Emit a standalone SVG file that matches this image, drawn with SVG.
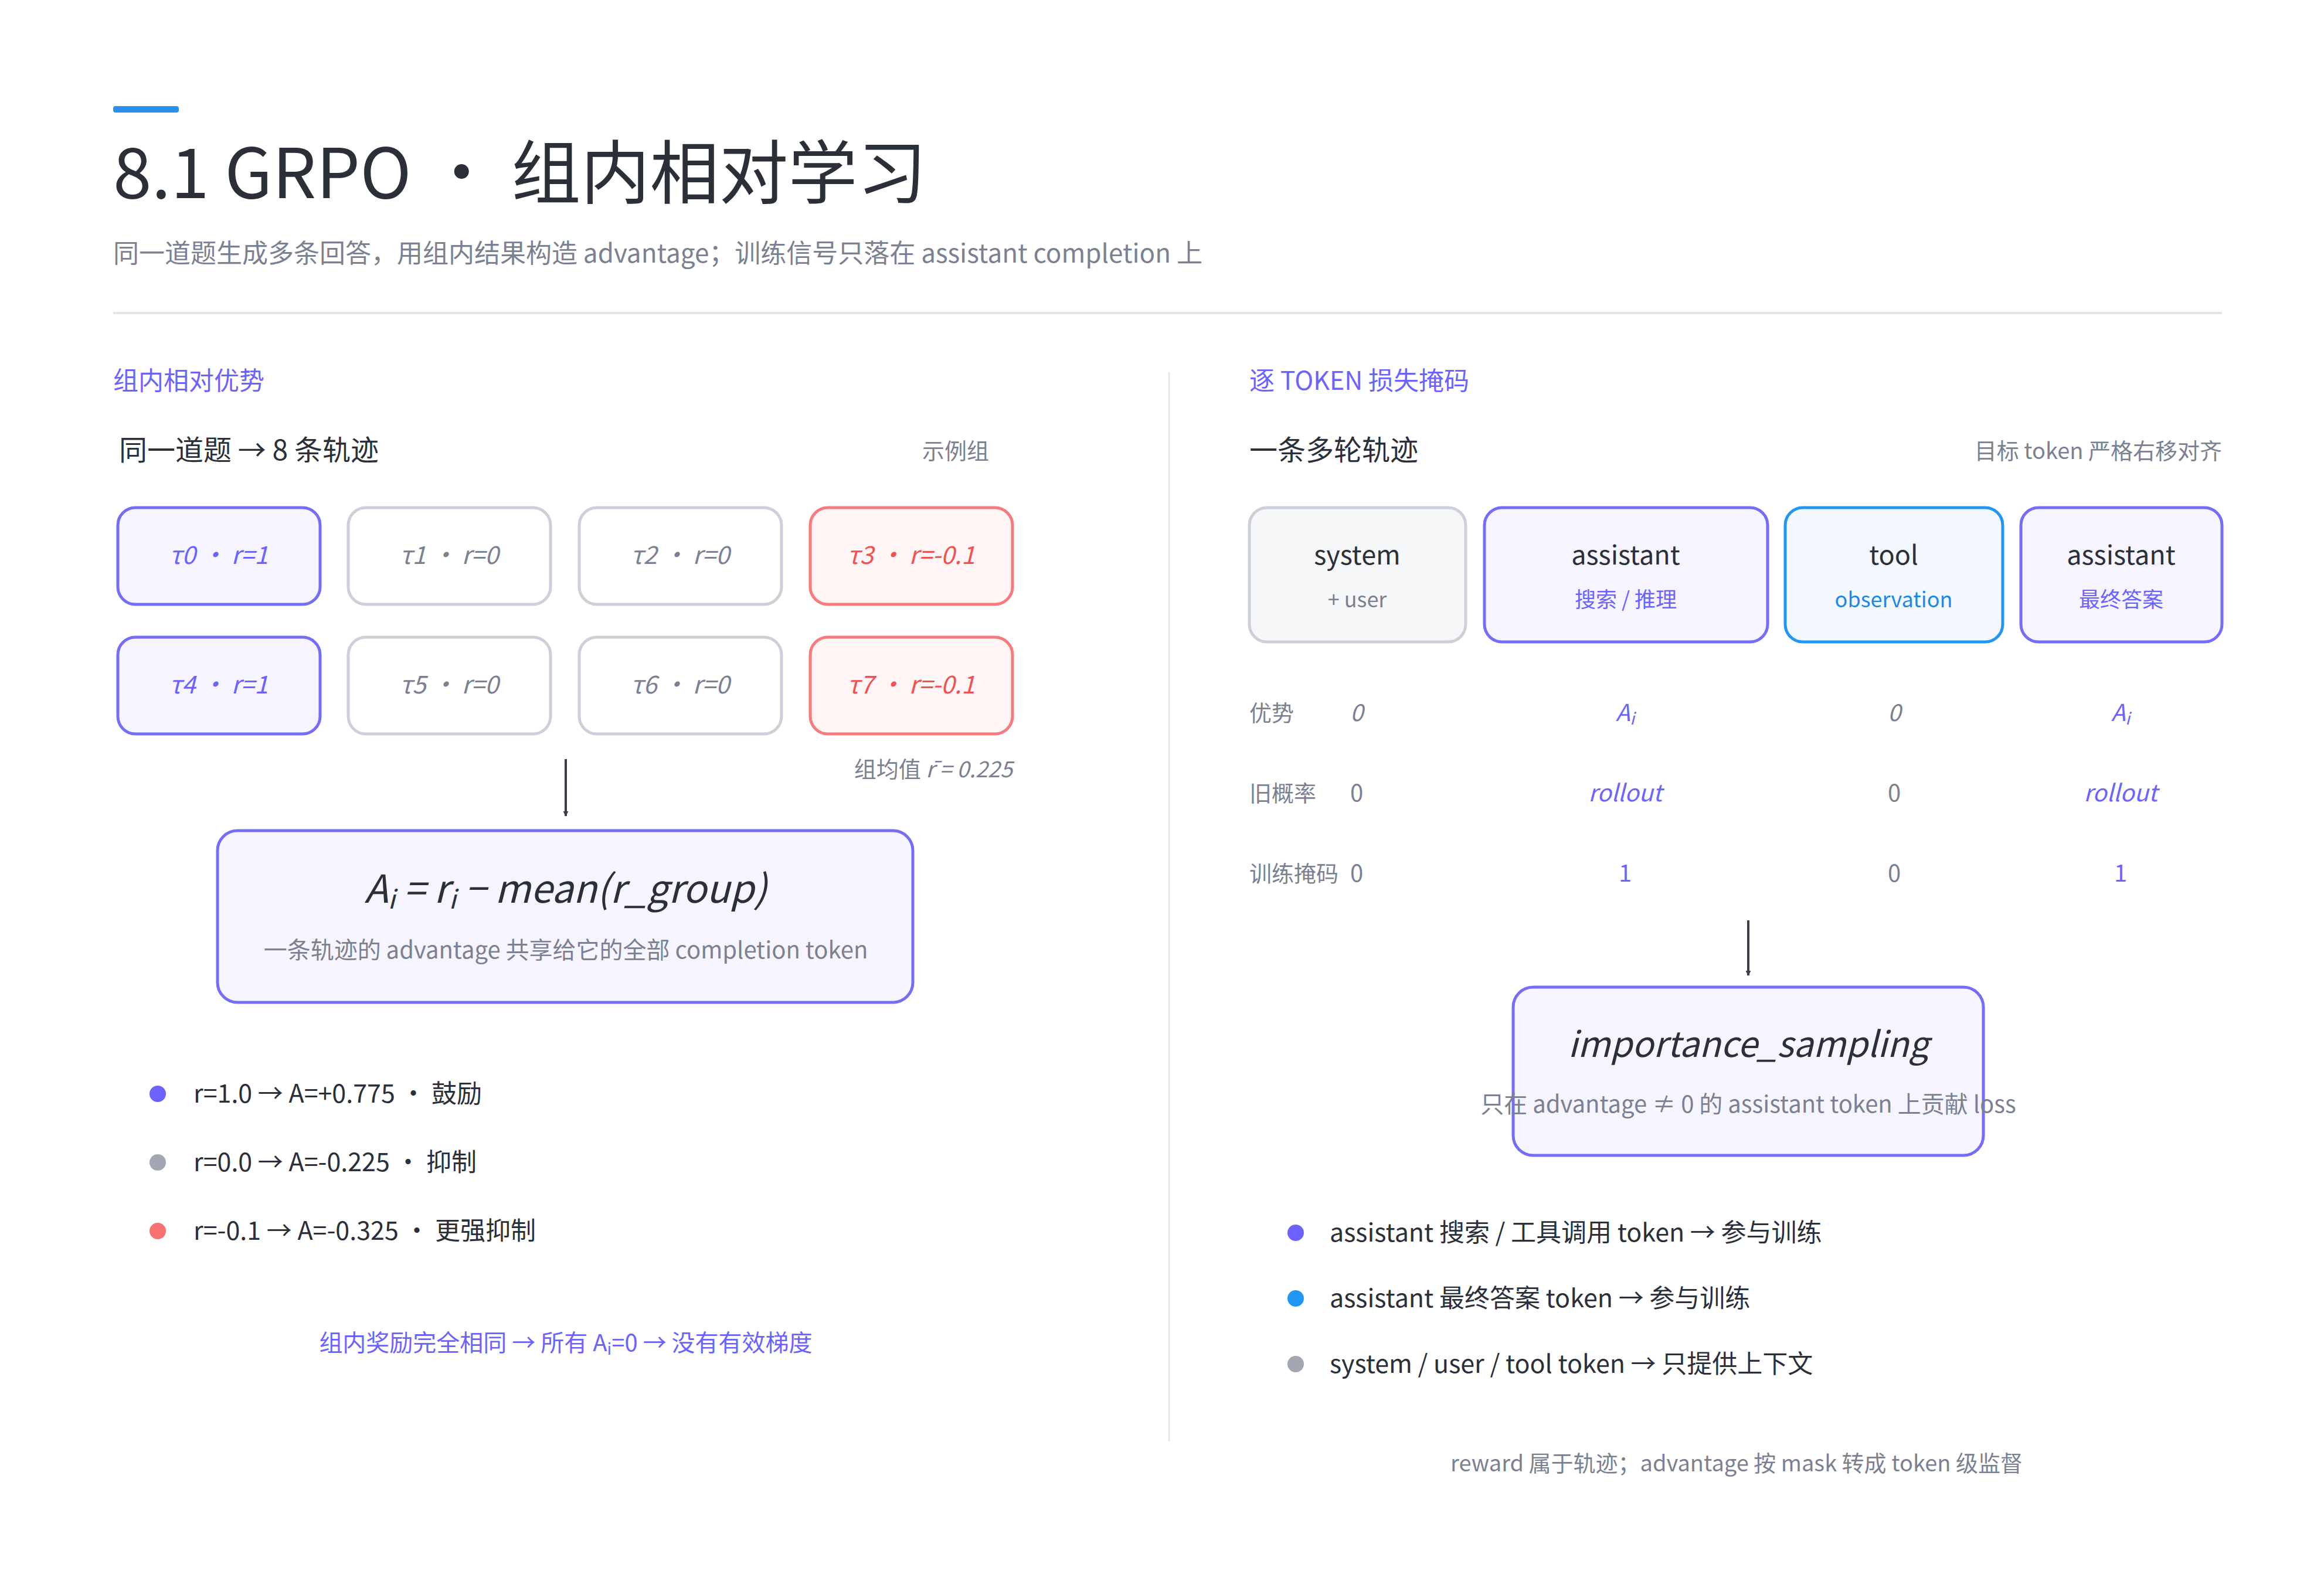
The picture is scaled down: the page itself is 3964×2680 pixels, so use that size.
<svg xmlns="http://www.w3.org/2000/svg" width="3964" height="2680" viewBox="0 0 3964 2680">
<defs>
<style>
text{font-family:"Noto Sans CJK SC","Noto Sans",sans-serif;}
.t{fill:#2b2f38}
.g{fill:#7b8190}
.p{fill:#6c63ff}
.it{font-style:italic}
.cP rect{fill:#f6f5ff;stroke:#756cf7;stroke-width:5}
.cG rect{fill:#ffffff;stroke:#cdd0d8;stroke-width:5}
.cR rect{fill:#fff5f5;stroke:#f77b7e;stroke-width:5}
.cS rect{fill:#f6f7f9;stroke:#cdd0d8;stroke-width:5}
.cB rect{fill:#f3f8ff;stroke:#2196f3;stroke-width:5}
.ct{font-size:42px;text-anchor:middle;font-style:italic}
.bx1{font-size:45px;text-anchor:middle;fill:#2b2f38}
.bx2{font-size:36px;text-anchor:middle}
.row{font-size:38px}
.val{font-size:40px;text-anchor:middle}
.bl{font-size:43px;fill:#2b2f38}
</style>
<marker id="ah" viewBox="0 0 10 10" refX="9" refY="5" markerWidth="9" markerHeight="11" orient="auto" markerUnits="userSpaceOnUse"><path d="M0,0 L10,5 L0,10 z" fill="#3a3f4a"/></marker>
</defs>
<rect width="3964" height="2680" fill="#ffffff"/>
<rect x="193" y="181" width="112" height="11" rx="4" fill="#2b8ff0"/>
<text x="193" y="338" font-size="118" class="t">8.1 GRPO · 组内相对学习</text>
<text x="193" y="448" font-size="44" class="g">同一道题生成多条回答，用组内结果构造 advantage；训练信号只落在 assistant completion 上</text>
<line x1="193" y1="534" x2="3790" y2="534" stroke="#e3e5ea" stroke-width="4"/>
<line x1="1994" y1="635" x2="1994" y2="2459" stroke="#e6e8ec" stroke-width="3"/>

<text x="193" y="665" font-size="43" class="p">组内相对优势</text>
<text x="203" y="785" font-size="48" class="t">同一道题 → 8 条轨迹</text>
<text x="1687" y="783" font-size="38" class="g" text-anchor="end">示例组</text>

<g id="t0" class="cP"><rect x="201" y="866" width="345" height="165" rx="30"/><text x="373" y="962" class="ct p">τ0 · r=1</text></g>
<g id="t1" class="cG"><rect x="594" y="866" width="345" height="165" rx="30"/><text x="766" y="962" class="ct g">τ1 · r=0</text></g>
<g id="t2" class="cG"><rect x="988" y="866" width="345" height="165" rx="30"/><text x="1160" y="962" class="ct g">τ2 · r=0</text></g>
<g id="t3" class="cR"><rect x="1382" y="866" width="345" height="165" rx="30"/><text x="1554" y="962" class="ct" fill="#f05252">τ3 · r=-0.1</text></g>
<g id="t4" class="cP"><rect x="201" y="1087" width="345" height="165" rx="30"/><text x="373" y="1183" class="ct p">τ4 · r=1</text></g>
<g id="t5" class="cG"><rect x="594" y="1087" width="345" height="165" rx="30"/><text x="766" y="1183" class="ct g">τ5 · r=0</text></g>
<g id="t6" class="cG"><rect x="988" y="1087" width="345" height="165" rx="30"/><text x="1160" y="1183" class="ct g">τ6 · r=0</text></g>
<g id="t7" class="cR"><rect x="1382" y="1087" width="345" height="165" rx="30"/><text x="1554" y="1183" class="ct" fill="#f05252">τ7 · r=-0.1</text></g>

<text x="1727" y="1326" font-size="38" class="g" text-anchor="end">组均值 <tspan class="it">r̄ = 0.225</tspan></text>

<g id="formula" class="cP"><rect x="371" y="1417" width="1186" height="293" rx="34"/>
<text x="965" y="1540" font-size="66" class="t it" text-anchor="middle">A<tspan font-size="44" dy="10">i</tspan><tspan dy="-10"> = r</tspan><tspan font-size="44" dy="10">i</tspan><tspan dy="-10"> − mean(r_group)</tspan></text>
<text x="965" y="1635" font-size="40" class="g" text-anchor="middle">一条轨迹的 advantage 共享给它的全部 completion token</text></g>

<g id="legendL">
<circle cx="269" cy="1866" r="14" fill="#6c63ff"/><text x="330" y="1881" class="bl">r=1.0 → A=+0.775 · 鼓励</text>
<circle cx="269" cy="1983" r="14" fill="#a3a7b1"/><text x="330" y="1998" class="bl">r=0.0 → A=-0.225 · 抑制</text>
<circle cx="269" cy="2100" r="14" fill="#f87171"/><text x="330" y="2115" class="bl">r=-0.1 → A=-0.325 · 更强抑制</text>
</g>
<text x="965" y="2305" font-size="40" class="p" text-anchor="middle">组内奖励完全相同 → 所有 A<tspan font-size="28" dy="6">i</tspan><tspan dy="-6">=0 → 没有有效梯度</tspan></text>

<text x="2131" y="665" font-size="43" class="p">逐 TOKEN 损失掩码</text>
<text x="2131" y="785" font-size="48" class="t">一条多轮轨迹</text>
<text x="3790" y="783" font-size="38" class="g" text-anchor="end">目标 token 严格右移对齐</text>

<g id="sys" class="cS"><rect x="2131" y="866" width="369" height="229" rx="30"/><text x="2315" y="963" class="bx1">system</text><text x="2315" y="1036" class="bx2 g">+ user</text></g>
<g id="ast1" class="cP"><rect x="2532" y="866" width="483" height="229" rx="30"/><text x="2773" y="963" class="bx1">assistant</text><text x="2773" y="1036" class="bx2 p">搜索 / 推理</text></g>
<g id="tool" class="cB"><rect x="3045" y="866" width="371" height="229" rx="30"/><text x="3230" y="963" class="bx1">tool</text><text x="3230" y="1036" class="bx2" fill="#1e88e5">observation</text></g>
<g id="ast2" class="cP"><rect x="3447" y="866" width="343" height="229" rx="30"/><text x="3618" y="963" class="bx1">assistant</text><text x="3618" y="1036" class="bx2 p">最终答案</text></g>

<g id="rows">
<text x="2131" y="1230" class="row g">优势</text>
<text x="2314" y="1230" class="val g it">0</text>
<text x="2772" y="1230" class="val p it">A<tspan font-size="28" dy="6">i</tspan></text>
<text x="3231" y="1230" class="val g it">0</text>
<text x="3617" y="1230" class="val p it">A<tspan font-size="28" dy="6">i</tspan></text>
<text x="2131" y="1367" class="row g">旧概率</text>
<text x="2314" y="1367" class="val g">0</text>
<text x="2772" y="1367" class="val p it">rollout</text>
<text x="3231" y="1367" class="val g">0</text>
<text x="3617" y="1367" class="val p it">rollout</text>
<text x="2131" y="1504" class="row g">训练掩码</text>
<text x="2314" y="1504" class="val g">0</text>
<text x="2772" y="1504" class="val p">1</text>
<text x="3231" y="1504" class="val g">0</text>
<text x="3617" y="1504" class="val p">1</text>
</g>

<g id="is" class="cP"><rect x="2581" y="1684" width="802" height="287" rx="34"/>
<text x="2982" y="1803" font-size="60" class="t it" text-anchor="middle">importance_sampling</text>
<text x="2982" y="1898" font-size="40" class="g" text-anchor="middle">只在 advantage ≠ 0 的 assistant token 上贡献 loss</text></g>

<g id="legendR">
<circle cx="2210" cy="2103" r="14" fill="#6c63ff"/><text x="2268" y="2118" class="bl">assistant 搜索 / 工具调用 token → 参与训练</text>
<circle cx="2210" cy="2215" r="14" fill="#2196f3"/><text x="2268" y="2230" class="bl">assistant 最终答案 token → 参与训练</text>
<circle cx="2210" cy="2327" r="14" fill="#a3a7b1"/><text x="2268" y="2342" class="bl">system / user / tool token → 只提供上下文</text>
</g>
<text x="2962" y="2510" font-size="38" class="g" text-anchor="middle">reward 属于轨迹；advantage 按 mask 转成 token 级监督</text>

<g id="connectors" stroke="#3a3f4a" stroke-width="4" fill="none">
<line x1="965" y1="1295" x2="965" y2="1392" marker-end="url(#ah)"/>
<line x1="2982" y1="1570" x2="2982" y2="1664" marker-end="url(#ah)"/>
</g>
</svg>
